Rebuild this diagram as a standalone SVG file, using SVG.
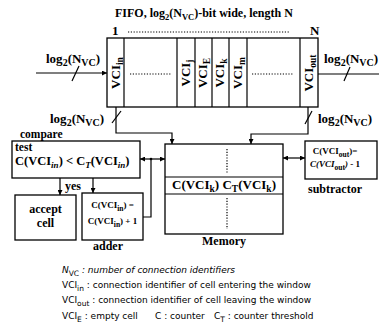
<svg xmlns="http://www.w3.org/2000/svg" width="379" height="330" viewBox="0 0 379 330">
<style>
.box{fill:#fff;stroke:#000;stroke-width:1.3}
.ln{fill:none;stroke:#000;stroke-width:1.2}
.dot{fill:none;stroke:#000;stroke-width:1.2;stroke-dasharray:1.2 1.6}
.lb{font-family:"Liberation Serif",serif;font-weight:bold;fill:#000}
.t13{font-size:13px}
.t12{font-size:12px}
.t11{font-size:11.5px}
.t9{font-size:9px}
.lg{font-family:"DejaVu Sans",sans-serif;font-size:9px;fill:#000}
</style>
<defs>
<marker id="ah" viewBox="0 0 8 8" refX="8" refY="4" markerWidth="5" markerHeight="5" orient="auto-start-reverse" markerUnits="userSpaceOnUse">
<path d="M0,0 L8,4 L0,8 z" fill="#000"/>
</marker>
</defs>
<rect width="379" height="330" fill="#fff"/>

<text class="lb" font-size="12" x="115" y="17">FIFO, log<tspan dy="3" font-size="8.5">2</tspan><tspan dy="-3">(N</tspan><tspan dy="3" font-size="8.5">VC</tspan><tspan dy="-3">)-bit wide, length N</tspan></text>

<g id="fifo">
<rect class="box" x="107" y="38" width="211" height="69"/>
<line class="ln" x1="124" y1="38" x2="124" y2="107"/>
<line class="ln" x1="177" y1="38" x2="177" y2="107"/>
<line class="ln" x1="195" y1="38" x2="195" y2="107"/>
<line class="ln" x1="212" y1="38" x2="212" y2="107"/>
<line class="ln" x1="229" y1="38" x2="229" y2="107"/>
<line class="ln" x1="247" y1="38" x2="247" y2="107"/>
<line class="ln" x1="300" y1="38" x2="300" y2="107"/>
<line class="dot" x1="130" y1="74" x2="172" y2="74"/>
<line class="dot" x1="252" y1="74" x2="294" y2="74"/>
<line class="dot" x1="128" y1="32" x2="290" y2="32"/>
<text class="lb t13" x="112" y="35">1</text>
<text class="lb t13" x="310" y="35">N</text>
<text class="lb t13" transform="translate(120,73) rotate(-90)" text-anchor="middle">VCI<tspan dy="3" font-size="9.5">in</tspan></text>
<text class="lb t13" transform="translate(190,73) rotate(-90)" text-anchor="middle">VCI<tspan dy="3" font-size="9.5">j</tspan></text>
<text class="lb t13" transform="translate(207,73) rotate(-90)" text-anchor="middle">VCI<tspan dy="3" font-size="9.5">E</tspan></text>
<text class="lb t13" transform="translate(224,73) rotate(-90)" text-anchor="middle">VCI<tspan dy="3" font-size="9.5">k</tspan></text>
<text class="lb t13" transform="translate(242,73) rotate(-90)" text-anchor="middle">VCI<tspan dy="3" font-size="9.5">m</tspan></text>
<text class="lb t13" transform="translate(313,73) rotate(-90)" text-anchor="middle">VCI<tspan dy="3" font-size="9.5">out</tspan></text>
</g>

<g id="compare">
<rect class="box" x="12" y="141" width="128" height="37"/>
<text class="lb t11" x="20" y="138">compare</text>
<text class="lb t11" x="15" y="151">test</text>
<text class="lb" font-size="12.5" x="15" y="165">C(VCI<tspan dy="3" font-size="9" font-style="italic">in</tspan><tspan dy="-3">) &lt; C</tspan><tspan dy="3" font-size="9" font-style="italic">T</tspan><tspan dy="-3">(VCI</tspan><tspan dy="3" font-size="9" font-style="italic">in</tspan><tspan dy="-3">)</tspan></text>
</g>

<g id="accept">
<rect class="box" x="15" y="195" width="61" height="45"/>
<text class="lb t12" x="45.5" y="213" text-anchor="middle">accept</text>
<text class="lb t12" x="45.5" y="227" text-anchor="middle">cell</text>
</g>

<g id="adder">
<rect class="box" x="82" y="193" width="61" height="47"/>
<text class="lb t9" x="112.5" y="208" text-anchor="middle">C(VCI<tspan dy="2.5" font-size="7.5">in</tspan><tspan dy="-2.5">) =</tspan></text>
<text class="lb t9" x="112.5" y="224" text-anchor="middle">C(VCI<tspan dy="2.5" font-size="7.5">in</tspan><tspan dy="-2.5">) + 1</tspan></text>
<text class="lb t12" x="108" y="250" text-anchor="middle">adder</text>
</g>

<g id="memory">
<rect class="box" x="165" y="144" width="118" height="90"/>
<line class="ln" x1="165" y1="177" x2="283" y2="177"/>
<line class="ln" x1="165" y1="194" x2="283" y2="194"/>
<line class="dot" x1="227" y1="149" x2="227" y2="173"/>
<line class="dot" x1="227" y1="198" x2="227" y2="229"/>
<text class="lb" font-size="13" x="224" y="189" text-anchor="middle">C(VCI<tspan dy="3" font-size="9.5">k</tspan><tspan dy="-3">) C</tspan><tspan dy="3" font-size="9.5">T</tspan><tspan dy="-3">(VCI</tspan><tspan dy="3" font-size="9.5">k</tspan><tspan dy="-3">)</tspan></text>
<text class="lb t12" x="224" y="245" text-anchor="middle">Memory</text>
</g>

<g id="subtractor">
<rect class="box" x="305" y="141" width="72" height="38"/>
<text class="lb t9" x="335" y="154" text-anchor="middle">C(VCI<tspan dy="2.5" font-size="7.5">out</tspan><tspan dy="-2.5">)=</tspan></text>
<text class="lb t9" x="335" y="167" text-anchor="middle"><tspan font-style="italic">C(VCI</tspan><tspan dy="2.5" font-size="7.5">out</tspan><tspan dy="-2.5" font-style="italic">)</tspan> - 1</text>
<text class="lb t12" x="308" y="193">subtractor</text>
</g>

<g id="connectors">
<line class="ln" x1="36" y1="73" x2="107" y2="73" marker-end="url(#ah)"/>
<line class="ln" x1="72" y1="81" x2="79" y2="66"/>
<text class="lb t13" x="46" y="63">log<tspan dy="3" font-size="10">2</tspan><tspan dy="-3">(N</tspan><tspan dy="3" font-size="10">VC</tspan><tspan dy="-3">)</tspan></text>

<line class="ln" x1="318" y1="74" x2="379" y2="74"/>
<line class="ln" x1="344" y1="81" x2="350" y2="67"/>
<text class="lb t13" x="324" y="63">log<tspan dy="3" font-size="10">2</tspan><tspan dy="-3">(N</tspan><tspan dy="3" font-size="10">VC</tspan><tspan dy="-3">)</tspan></text>

<polyline class="ln" points="116,107 116,133 172,133 172,144" marker-end="url(#ah)"/>
<line class="ln" x1="112" y1="123" x2="121" y2="111"/>
<text class="lb t13" x="50" y="123">log<tspan dy="3" font-size="10">2</tspan><tspan dy="-3">(N</tspan><tspan dy="3" font-size="10">VC</tspan><tspan dy="-3">)</tspan></text>

<polyline class="ln" points="308,107 308,134 251,134 251,144" marker-end="url(#ah)"/>
<line class="ln" x1="305" y1="124" x2="312" y2="111"/>
<text class="lb t13" x="318" y="123">log<tspan dy="3" font-size="10">2</tspan><tspan dy="-3">(N</tspan><tspan dy="3" font-size="10">VC</tspan><tspan dy="-3">)</tspan></text>

<line class="ln" x1="140" y1="159" x2="165" y2="159" marker-start="url(#ah)" marker-end="url(#ah)"/>
<polyline class="ln" points="143,217 151,217 151,159"/>
<circle cx="151" cy="159" r="1.3" fill="#000"/>

<line class="ln" x1="283" y1="158" x2="305" y2="158" marker-start="url(#ah)" marker-end="url(#ah)"/>

<line class="ln" x1="60" y1="178" x2="60" y2="195" marker-end="url(#ah)"/>
<text class="lb t12" x="65" y="190">yes</text>
<line class="ln" x1="93" y1="178" x2="93" y2="193" marker-end="url(#ah)"/>
</g>

<g id="legend">
<text class="lg" x="62" y="273"><tspan font-style="italic">N</tspan><tspan dy="2.5" font-size="7.5">VC</tspan><tspan dy="-2.5" font-style="italic"> : number of connection identifiers</tspan></text>
<text class="lg" x="62" y="288">VCI<tspan dy="2.5" font-size="7.5">in</tspan><tspan dy="-2.5"> : connection identifier of cell entering the window</tspan></text>
<text class="lg" x="62" y="303">VCI<tspan dy="2.5" font-size="7.5">out</tspan><tspan dy="-2.5"> : connection identifier of cell leaving the window</tspan></text>
<text class="lg" x="62" y="319">VCI<tspan dy="2.5" font-size="7.5">E</tspan><tspan dy="-2.5"> : empty cell</tspan><tspan x="155">C : counter</tspan><tspan x="214">C</tspan><tspan dy="2.5" font-size="7.5">T</tspan><tspan dy="-2.5"> : counter threshold</tspan></text>
</g>
</svg>
